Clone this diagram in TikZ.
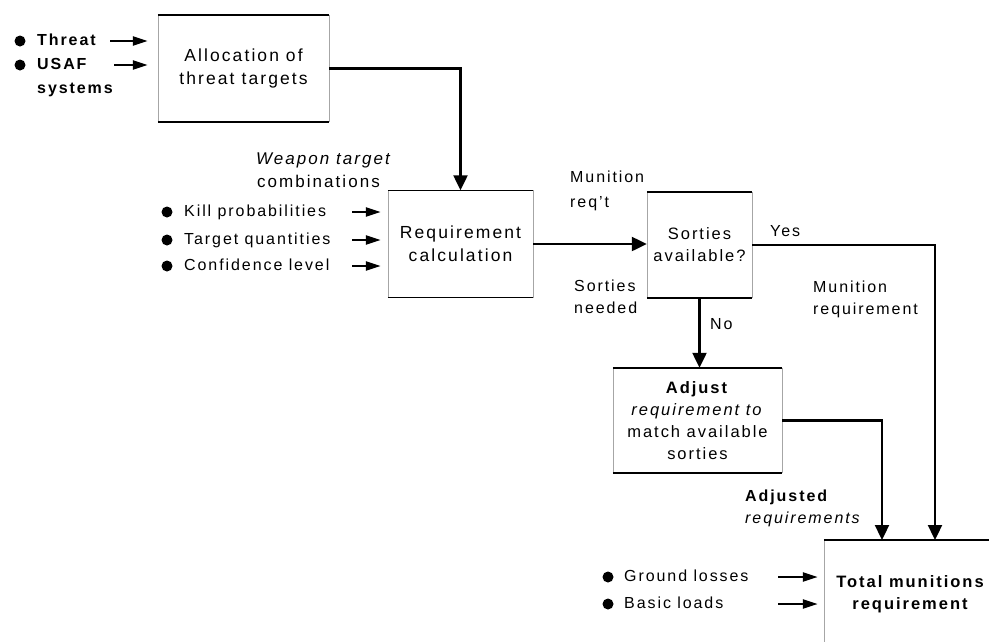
\documentclass[tikz,border=0pt]{standalone}
\usepackage{fontspec}
\setmainfont{Liberation Sans}[LetterSpace=12]
\usetikzlibrary{arrows.meta}
\newcommand\txtfont{\fontsize{16}{22}\selectfont}
\newcommand\bigfont{\fontsize{17.5}{23}\selectfont}
\begin{document}
\begin{tikzpicture}[x=1pt,y=-1pt,
  every node/.style={font=\txtfont, inner sep=0pt},
  box/.style={draw=none, align=center},
  lbl/.style={anchor=west, text height=12pt, text depth=3.5pt},
  dot/.style={circle, fill=black, minimum size=11pt, inner sep=0pt},
  flow/.style={line width=2.3pt, -{Triangle[length=15pt,width=14pt]}},
  feed/.style={line width=2.2pt, -{Triangle[length=15pt,width=9pt]}},
  rim/.style={line width=1.5pt},
  side/.style={line width=0.6pt, black!35},
]
\useasboundingbox (0,0) rectangle (989,641);

% process boxes
\node[box, minimum width=171pt, minimum height=107pt, font=\bigfont] (alloc) at (243.5,68.5) {Allocation of\\threat targets};
\node[box, minimum width=145pt, minimum height=107pt, font=\bigfont] (req) at (460.5,244) {Requirement\\calculation};
\node[box, minimum width=105pt, minimum height=106pt, font=\fontsize{16.5}{22}\selectfont] (sort) at (699.5,245) {Sorties\\available?};
\node[box, minimum width=169pt, minimum height=105pt, font=\fontsize{16.5}{22}\selectfont] (adj) at (697.5,420.5) {\textbf{Adjust}\\\textit{requirement to}\\match available\\sorties};
\node[box, minimum width=172pt, minimum height=108pt, font=\fontsize{16.5}{22}\selectfont\bfseries] (total) at (910,594) {Total munitions\\requirement};

\foreach \b in {alloc,req,sort,adj,total} {
  \draw[side] (\b.north west) -- (\b.south west) (\b.north east) -- (\b.south east);
  \draw[rim] (\b.north west) -- (\b.north east) (\b.south west) -- (\b.south east);
}

% inputs to the allocation step
\node[dot] (d1) at (20,41) {};
\node[lbl, font=\txtfont\bfseries] (threat) at (37,41) {Threat};
\node[dot] (d2) at (20,65) {};
\node[lbl, font=\txtfont\bfseries] (usaf) at (37,65) {USAF};
\node[lbl, font=\txtfont\bfseries] (usaf2) at (37,89) {systems};
\coordinate (threatS) at (110,41);
\coordinate (usafS) at (114,65);
\draw[feed, shorten >=10pt] (threatS) -- (threatS -| alloc.west);
\draw[feed, shorten >=10pt] (usafS) -- (usafS -| alloc.west);

% inputs to the requirement calculation
\node[dot] (d3) at (167,212) {};
\node[lbl] (kill) at (184,212) {Kill probabilities};
\node[dot] (d4) at (167,240) {};
\node[lbl] (tq) at (184,240) {Target quantities};
\node[dot] (d5) at (167,266) {};
\node[lbl] (cl) at (184,266) {Confidence level};
\coordinate (killS) at (352,212);
\coordinate (tqS) at (352,240);
\coordinate (clS) at (352,266);
\draw[feed, shorten >=7pt] (killS) -- (killS -| req.west);
\draw[feed, shorten >=7pt] (tqS) -- (tqS -| req.west);
\draw[feed, shorten >=7pt] (clS) -- (clS -| req.west);

% inputs to the total
\node[dot] (d6) at (608,577) {};
\node[lbl] (gl) at (624,577) {Ground losses};
\node[dot] (d7) at (608,604) {};
\node[lbl] (bl) at (624,604) {Basic loads};
\coordinate (glS) at (778,577);
\coordinate (blS) at (778,604);
\draw[feed, shorten >=6pt] (glS) -- (glS -| total.west);
\draw[feed, shorten >=6pt] (blS) -- (blS -| total.west);

% flow labels
\node[lbl, font=\fontsize{17}{22}\selectfont] (wt1) at (256,160) {\itshape Weapon target};
\node[lbl, font=\fontsize{17}{22}\selectfont] (wt2) at (257,183) {combinations};
\node[lbl] (mr1) at (570,178) {Munition};
\node[lbl] (mr2) at (570,203) {req't};
\node[lbl] (sn1) at (574,287) {Sorties};
\node[lbl] (sn2) at (574,309) {needed};
\node[lbl] (yes) at (770,232) {Yes};
\node[lbl] (no) at (710,325) {No};
\node[lbl] (mq1) at (813,288) {Munition};
\node[lbl] (mq2) at (813,310) {requirement};
\node[lbl, font=\txtfont\bfseries] (ar1) at (745,497) {Adjusted};
\node[lbl] (ar2) at (745,519) {\itshape requirements};

% connectors
\coordinate (yesin) at (935,540);
\coordinate (adjin) at (882,540);
\draw[flow] (alloc.east) -| (req.north);
\draw[flow] (req.east) -- (req.east -| sort.west);
\draw[flow] (sort.east) -| (yesin);
\draw[flow] (sort.south) -- (sort.south |- adj.north);
\draw[flow] (adj.east) -| (adjin);
\end{tikzpicture}
\end{document}
